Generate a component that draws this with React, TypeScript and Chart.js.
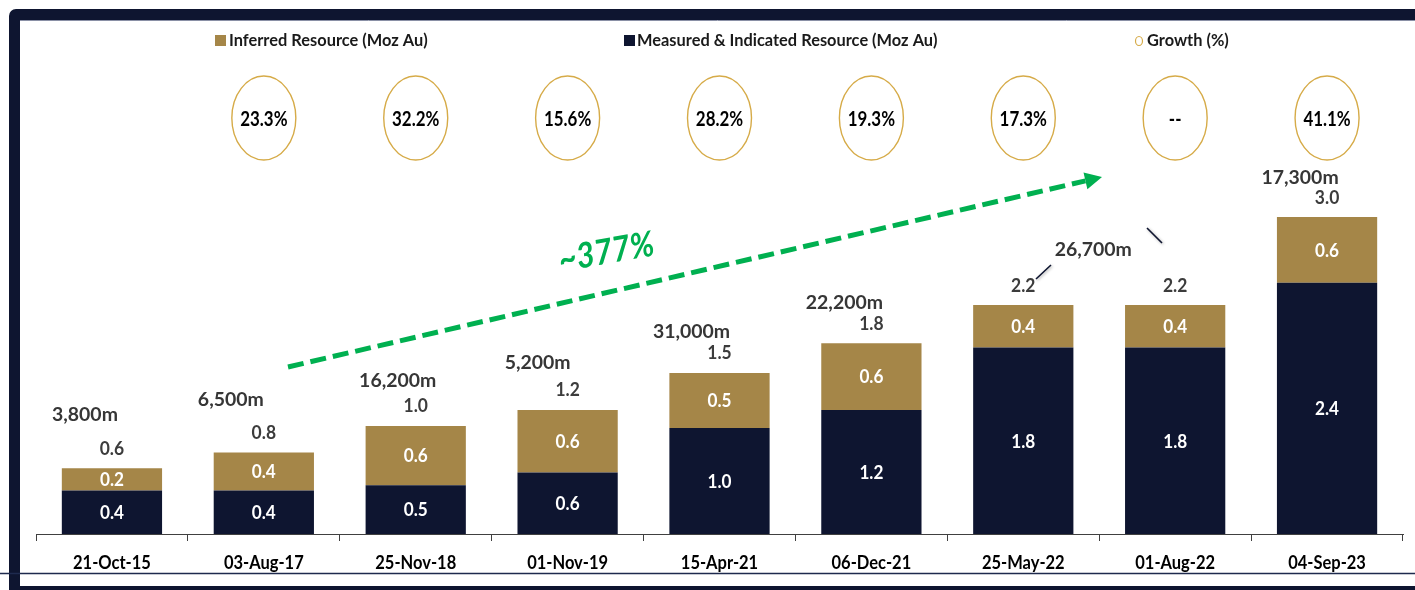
import React, { useEffect, useRef } from "react";
import { Chart, registerables } from "chart.js";

Chart.register(...registerables);

const categories = ["21-Oct-15", "03-Aug-17", "25-Nov-18", "01-Nov-19", "15-Apr-21", "06-Dec-21", "25-May-22", "01-Aug-22", "04-Sep-23"];
const measured = [0.41, 0.41, 0.46, 0.58, 1.0, 1.17, 1.76, 1.76, 2.37];
const inferred = [0.21, 0.36, 0.56, 0.59, 0.52, 0.63, 0.4, 0.4, 0.62];
const growthLabels = ["", "23.3%", "32.2%", "15.6%", "28.2%", "19.3%", "17.3%", "--", "41.1%"];
const drillMeters: (number | null)[] = [3800, 6500, 16200, 5200, 31000, 22200, 26700, null, 17300];
const overallGrowthLabel = "~377%";

const NAVY = "#0e1530";
const GOLD = "#a58648";
const RING = "#d6ab48";
const GREEN = "#00b050";
const FONT = "Lato, 'Open Sans', sans-serif";

// label nudges (layout, not data)
const meterDx = [-27, -33, -18, -30, -28, -27, 70, 0, -27];
const meterDy = [-54, -53, -46, -48, -42, -41, -56, 0, -40];

function calib(ctx: CanvasRenderingContext2D, font: string, ref: string, w: number) {
  ctx.save();
  ctx.font = font;
  const mt = ctx.measureText(ref);
  let m = (mt.actualBoundingBoxLeft || 0) + (mt.actualBoundingBoxRight || 0);
  if (!(m > 0)) m = mt.width;
  ctx.restore();
  return m > 0 ? w / m : 1;
}

function txt(ctx: CanvasRenderingContext2D, s: string, x: number, cy: number, size: number, font: string, color: string, sx: number, align: CanvasTextAlign = "center") {
  ctx.save();
  ctx.font = font;
  ctx.fillStyle = color;
  ctx.textAlign = align;
  ctx.textBaseline = "alphabetic";
  ctx.translate(x, cy + size * 0.36);
  ctx.scale(sx, 1);
  ctx.fillText(s, 0, 0);
  ctx.restore();
}

const overlay = {
  id: "overlay",
  afterDraw(chart: any) {
    const ctx: CanvasRenderingContext2D = chart.ctx;
    const xs = chart.scales.x;
    const ys = chart.scales.y;
    const W = chart.width;
    const H = chart.height;

    // frame
    ctx.save();
    ctx.fillStyle = NAVY;
    ctx.beginPath();
    ctx.roundRect(9, 9, W + 20, H + 20, 7);
    ctx.rect(20, 20, W + 10, 566);
    ctx.fill("evenodd");
    ctx.strokeStyle = "#8a90a6";
    ctx.lineWidth = 1;
    ctx.beginPath();
    ctx.moveTo(20, 20.5);
    ctx.lineTo(W, 20.5);
    ctx.stroke();
    ctx.strokeStyle = "#1e2a4e";
    ctx.lineWidth = 1.5;
    ctx.beginPath();
    ctx.moveTo(0, 573.5);
    ctx.lineTo(W, 573.5);
    ctx.stroke();
    ctx.restore();

    // legend
    const lf = `bold 17px ${FONT}`;
    const lsx = calib(ctx, lf, "Inferred Resource (Moz Au)", 198);
    const ds = chart.data.datasets;
    ctx.save();
    ctx.fillStyle = GOLD;
    ctx.fillRect(215, 35, 11, 11);
    ctx.fillStyle = NAVY;
    ctx.fillRect(624, 35, 11, 11);
    ctx.strokeStyle = RING;
    ctx.lineWidth = 1.2;
    ctx.beginPath();
    ctx.ellipse(1139, 41, 3.5, 4.5, 0, 0, Math.PI * 2);
    ctx.stroke();
    ctx.restore();
    txt(ctx, ds[1].label, 229, 40, 17, lf, "#1a1a1a", lsx, "left");
    txt(ctx, ds[0].label, 637, 40, 17, lf, "#1a1a1a", lsx, "left");
    txt(ctx, "Growth (%)", 1147, 40, 17, lf, "#1a1a1a", lsx, "left");

    // growth ellipses
    const gf = `bold 20px ${FONT}`;
    const gsx = calib(ctx, gf, "23.3%", 47);
    growthLabels.forEach((g, i) => {
      if (!g) return;
      const cx = xs.getPixelForValue(i);
      ctx.save();
      ctx.strokeStyle = RING;
      ctx.lineWidth = 1.4;
      ctx.beginPath();
      ctx.ellipse(cx, 118, 32, 42, 0, 0, Math.PI * 2);
      ctx.stroke();
      ctx.restore();
      txt(ctx, g, cx, 119, 20, gf, "#000", gsx);
    });

    // inside labels
    const inf = `bold 19px ${FONT}`;
    const isx = calib(ctx, inf, "0.4", 24);
    const tf = `bold 18px ${FONT}`;
    const tsx = calib(ctx, tf, "0.6", 24);
    const mf = `bold 19px ${FONT}`;
    const msx = calib(ctx, mf, "3,800m", 65);
    categories.forEach((_, i) => {
      const cx = xs.getPixelForValue(i);
      const m = measured[i];
      const f = inferred[i];
      const y0 = ys.getPixelForValue(0);
      const y1 = ys.getPixelForValue(m);
      const y2 = ys.getPixelForValue(m + f);
      txt(ctx, m.toFixed(1), cx, (y0 + y1) / 2, 19, inf, "#fff", isx);
      txt(ctx, f.toFixed(1), cx, (y1 + y2) / 2, 19, inf, "#fff", isx);
      txt(ctx, (m + f).toFixed(1), cx, y2 - 20, 18, tf, "#3c3c3c", tsx);
      const dm = drillMeters[i];
      if (dm != null) {
        txt(ctx, dm.toLocaleString("en-US") + "m", cx + meterDx[i], y2 + meterDy[i], 19, mf, "#363636", msx);
      }
    });

    // x labels
    const xf = `bold 19px ${FONT}`;
    const xsx = calib(ctx, xf, "21-Oct-15", 77);
    categories.forEach((c, i) => {
      txt(ctx, c, xs.getPixelForValue(i), 562, 19, xf, "#000", xsx);
    });

    // leader lines
    ctx.save();
    ctx.strokeStyle = NAVY;
    ctx.lineWidth = 1.6;
    ctx.shadowColor = "rgba(0,0,0,0.35)";
    ctx.shadowBlur = 3;
    ctx.shadowOffsetX = 1;
    ctx.shadowOffsetY = 1;
    ctx.beginPath();
    ctx.moveTo(1036, 279);
    ctx.lineTo(1051, 265);
    ctx.moveTo(1147, 228);
    ctx.lineTo(1162, 243);
    ctx.stroke();
    ctx.restore();

    // arrow
    const sx0 = 288, sy0 = 367, tx = 1102, ty = 177;
    const ang = Math.atan2(ty - sy0, tx - sx0);
    const hl = 17, hw = 8.5;
    const bx = tx - hl * Math.cos(ang), by = ty - hl * Math.sin(ang);
    ctx.save();
    ctx.strokeStyle = GREEN;
    ctx.lineWidth = 5;
    ctx.setLineDash([16, 7]);
    ctx.beginPath();
    ctx.moveTo(sx0, sy0);
    ctx.lineTo(bx, by);
    ctx.stroke();
    ctx.setLineDash([]);
    ctx.fillStyle = GREEN;
    ctx.beginPath();
    ctx.moveTo(tx, ty);
    ctx.lineTo(bx + hw * Math.sin(ang), by - hw * Math.cos(ang));
    ctx.lineTo(bx - hw * Math.sin(ang), by + hw * Math.cos(ang));
    ctx.closePath();
    ctx.fill();
    ctx.restore();

    // ~377%
    const af = `italic bold 35px ${FONT}`;
    const asx = calib(ctx, af, overallGrowthLabel, 95);
    ctx.save();
    ctx.translate(606, 251);
    ctx.rotate((-10 * Math.PI) / 180);
    txt(ctx, overallGrowthLabel, 0, 0, 35, af, GREEN, asx);
    ctx.restore();
  },
};

export default function App() {
  const ref = useRef<HTMLCanvasElement | null>(null);
  useEffect(() => {
    if (!ref.current) return;
    const chart = new Chart(ref.current, {
      type: "bar",
      data: {
        labels: categories,
        datasets: [
          { label: "Measured & Indicated Resource (Moz Au)", data: measured, backgroundColor: NAVY, barPercentage: 0.66, categoryPercentage: 1, stack: "s" },
          { label: "Inferred Resource (Moz Au)", data: inferred, backgroundColor: GOLD, barPercentage: 0.66, categoryPercentage: 1, stack: "s" },
        ],
      },
      options: {
        responsive: false,
        animation: false,
        layout: { padding: { left: 36, right: 12, top: 110, bottom: 49 } },
        plugins: { legend: { display: false }, tooltip: { enabled: false } },
        scales: {
          x: {
            stacked: true,
            grid: { display: true, drawOnChartArea: false, drawTicks: true, tickLength: 7, color: "#404040", offset: true, lineWidth: 1 },
            border: { display: true, color: "#404040", width: 1 },
            ticks: { display: false },
          },
          y: { stacked: true, display: false, min: 0, max: 4 },
        },
      },
      plugins: [overlay],
    });
    return () => chart.destroy();
  }, []);
  return (
    <div style={{ position: "fixed", left: 0, top: 0, width: 1415, height: 590, background: "#fff" }}>
      <canvas ref={ref} width={1415} height={590} style={{ display: "block" }} />
    </div>
  );
}
